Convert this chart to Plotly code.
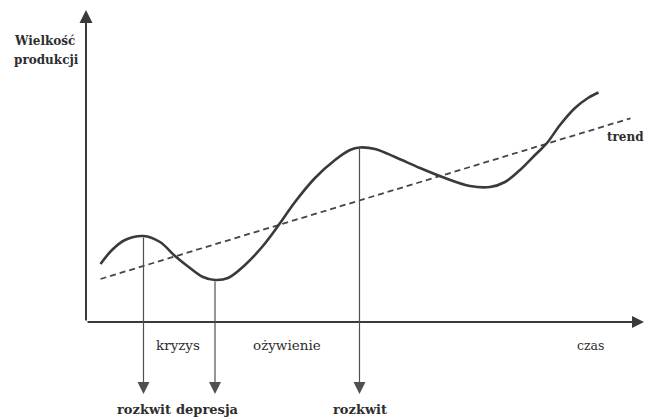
import plotly.graph_objects as go

# Business-cycle curve (time, production) in chart units
curve_t = [14.5, 26, 39, 57.5, 74, 89, 104, 117, 129, 142, 159, 176, 192, 209, 229, 249,
           264, 274, 289, 309, 334, 359, 384, 404, 419, 434, 449, 461, 474, 489, 502, 512.5]
curve_v = [58, 72, 82, 86, 80, 66, 54, 45, 42, 44, 57, 75, 96, 120, 144, 162,
           172, 174.5, 173, 165, 154, 144, 136, 135, 140, 152, 167, 179, 197, 214, 224, 229.5]

# Trend line
trend_t = [14.5, 544.5]
trend_v = [43, 203.7]

# Phase markers (vertical arrows): time, value on curve, label
phase_t = [57.5, 129, 273.5]
phase_v = [86, 42, 174.5]
phase_labels = ["rozkwit", "depresja", "rozkwit"]
phase_label_t = [57.5, 121, 274]

# Between-phase labels
mid_labels = ["kryzys", "ożywienie"]
mid_label_t = [92, 200.5]

INK = "#3a3a3a"
TXT = "#2e2e2e"

fig = go.Figure()
fig.add_trace(go.Scatter(x=trend_t, y=trend_v, mode="lines",
                         line=dict(color="#454545", width=1.8, dash="6px,4px"),
                         hoverinfo="skip"))
fig.add_trace(go.Scatter(x=curve_t, y=curve_v, mode="lines",
                         line=dict(color=INK, width=2.6, shape="spline", smoothing=1),
                         hoverinfo="skip"))

ann = []
# axes arrows
ann.append(dict(x=0, y=312, ax=0, ay=0, xref="x", yref="y", axref="x", ayref="y",
                text="", showarrow=True, arrowhead=2, arrowsize=1.3, arrowwidth=2,
                arrowcolor=INK))
ann.append(dict(x=558, y=0, ax=0, ay=0, xref="x", yref="y", axref="x", ayref="y",
                text="", showarrow=True, arrowhead=2, arrowsize=1.2, arrowwidth=2,
                arrowcolor=INK))
# vertical phase arrows
for t, v in zip(phase_t, phase_v):
    ann.append(dict(x=t, y=-72, ax=t, ay=v, xref="x", yref="y", axref="x", ayref="y",
                    text="", showarrow=True, arrowhead=2, arrowsize=2, arrowwidth=1.2,
                    arrowcolor="#505050"))
for lab, t in zip(phase_labels, phase_label_t):
    ann.append(dict(x=t, y=-87, xref="x", yref="y", text=lab, showarrow=False,
                    font=dict(family="DejaVu Serif", size=13, color=TXT, weight="bold"),
                    xanchor="center", yanchor="middle"))
for lab, t in zip(mid_labels, mid_label_t):
    ann.append(dict(x=t, y=-23, xref="x", yref="y", text=lab, showarrow=False,
                    font=dict(family="DejaVu Serif", size=13.5, color=TXT),
                    xanchor="center", yanchor="middle"))
ann.append(dict(x=504, y=-23, xref="x", yref="y", text="czas", showarrow=False,
                font=dict(family="DejaVu Serif", size=12.5, color=TXT),
                xanchor="center", yanchor="middle"))
ann.append(dict(x=519, y=185, xref="x", yref="y", text="trend", showarrow=False,
                font=dict(family="DejaVu Serif", size=12, color=TXT, weight="bold"),
                xanchor="left", yanchor="middle"))
ann.append(dict(x=-74, y=281, xref="x", yref="y", text="Wielkość", showarrow=False,
                font=dict(family="DejaVu Serif", size=12, color=TXT, weight="bold"),
                xanchor="left", yanchor="middle"))
ann.append(dict(x=-74, y=262, xref="x", yref="y", text="produkcji", showarrow=False,
                font=dict(family="DejaVu Serif", size=12, color=TXT, weight="bold"),
                xanchor="left", yanchor="middle"))

# The page body adds an 8px margin; ranges are offset so marks land where the reference has them
fig.update_layout(
    width=645, height=409,
    margin=dict(l=0, r=0, t=0, b=0),
    paper_bgcolor="white", plot_bgcolor="white",
    showlegend=False,
    annotations=ann,
    xaxis=dict(range=[-78, 567], visible=False, fixedrange=True),
    yaxis=dict(range=[-95, 314], visible=False, fixedrange=True),
)
fig.write_html("out.html")
